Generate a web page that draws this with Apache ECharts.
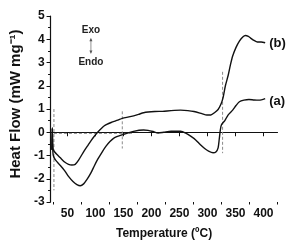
<!DOCTYPE html>
<html><head><meta charset="utf-8">
<script src="https://cdn.jsdelivr.net/npm/echarts@6/dist/echarts.min.js"></script>
<style>html,body{margin:0;padding:0;background:#fff}#c{width:290px;height:245px}</style>
</head><body><div id="c"></div>
<script>
// Curve (a): lower curve
const tempA = [22.3,23,23.7,24.5,26,29,37,45,52,60,67,73,79,85,92,98,104,112,119,126,133,148,168,186,194,203,212,222,235,252,262,270,279,287,295,302,310,315,319,321,323,325,331,337,345,351,357,365,374,383,392,403];
const heatA = [-0.75,0.18,-0.6,-0.95,-1.08,-1.2,-1.42,-1.65,-1.9,-2.12,-2.25,-2.3,-2.22,-2.03,-1.75,-1.45,-1.17,-0.85,-0.6,-0.4,-0.25,-0.11,0.04,0.1,0.08,0.03,-0.03,0.0,0.04,0.04,-0.05,-0.17,-0.33,-0.53,-0.7,-0.81,-0.88,-0.85,-0.67,-0.3,0.1,0.32,0.5,0.75,0.95,1.15,1.31,1.38,1.41,1.39,1.38,1.45];
// Curve (b): upper curve
const tempB = [22.3,23,23.7,24.5,27,31,37,45,52,58,64,70,80,87,95,104,116,128,140,148,162,177,186,206,220,235,252,265,276,290,299,306,313,319,324,328,332,337,341,345,351,357,363,368,373,377,383,389,396,403];
const heatB = [-0.75,0.18,-0.5,-0.74,-0.84,-0.95,-1.09,-1.28,-1.38,-1.41,-1.38,-1.2,-0.8,-0.55,-0.27,0.0,0.28,0.42,0.52,0.6,0.67,0.77,0.84,0.89,0.9,0.93,0.95,0.93,0.89,0.8,0.74,0.74,0.85,0.98,1.2,1.5,2.0,2.45,2.9,3.28,3.65,3.92,4.1,4.16,4.12,4.05,3.95,3.88,3.88,3.85];
// Dashed guide lines (data units)
const guideV1 = [[26, 1.0], [26, -2.5]];
const guideH1 = [[26, -0.05], [166, -0.05]];
const guideV2 = [[148, 0.9], [148, -0.7]];
const guideV3 = [[327, 2.6], [327, -0.9]];
// Ticks
const xTickLabels = [50,100,150,200,250,300,350,400];
const xMinorTicks = [25,75,125,175,225,275,325,375,425];
const yTickLabels = [-3,-2,-1,0,1,2,3,4,5];
const seriesNames = ['(a)','(b)'];
const annot = {exo:[92, 4.4], endo:[92, 3.02], arrowTop:[92, 4.0], arrowBot:[92, 3.43]};

const FONT = "'Liberation Sans', Arial, sans-serif";
const zip = (t, v) => t.map((x, i) => [x, v[i]]);
const chart = echarts.init(document.getElementById('c'), null, {renderer:'canvas'});

const guide = (d) => ({type:'line', data:d, showSymbol:false, silent:true,
  lineStyle:{color:'#8a8a8a', width:1, type:[3,2]}, z:1});

const curve = (name, d, dy) => ({type:'line', name, data:d, showSymbol:false, smooth:0.25,
  lineStyle:{color:'#111', width:1.4}, z:3,
  endLabel:{show:true, formatter:name, color:'#111', fontFamily:FONT, fontWeight:'bold', fontSize:13, distance:4, offset:[0, dy]}});

chart.setOption({
  animation:false,
  backgroundColor:'#fff',
  grid:{left:45, right:12.5, top:16, bottom:40},
  xAxis:[{
    type:'value', min:20, max:425, position:'bottom',
    name:'Temperature (ºC)', nameLocation:'middle', nameGap:26,
    nameTextStyle:{fontFamily:FONT, fontWeight:'bold', fontSize:12, color:'#111'},
    axisLine:{lineStyle:{color:'#111', width:1.2}},
    axisTick:{show:true, customValues:xTickLabels, length:4, lineStyle:{color:'#111'}},
    axisLabel:{customValues:xTickLabels, fontFamily:FONT, fontWeight:'bold', fontSize:12, color:'#111', margin:6},
    splitLine:{show:false}
  },{
    type:'value', min:20, max:425, position:'bottom',
    axisLine:{show:false},
    axisTick:{show:true, customValues:xMinorTicks, length:2.5, lineStyle:{color:'#111'}},
    axisLabel:{show:false}, splitLine:{show:false}
  }],
  yAxis:{
    type:'value', min:-3, max:5, interval:1,
    name:'Heat Flow (mW mg⁻¹)', nameLocation:'middle', nameGap:26, nameRotate:90,
    nameTextStyle:{fontFamily:FONT, fontWeight:'bold', fontSize:15, color:'#111', padding:[0,0,0,10]},
    axisLine:{show:true, lineStyle:{color:'#111', width:1.2}},
    axisTick:{show:true, length:4, lineStyle:{color:'#111'}},
    minorTick:{show:true, splitNumber:2, length:2.5, lineStyle:{color:'#111'}},
    axisLabel:{fontFamily:FONT, fontWeight:'bold', fontSize:12, color:'#111', margin:6},
    splitLine:{show:false}
  },
  series:[
    guide(guideV1), guide(guideH1), guide(guideV2), guide(guideV3),
    curve(seriesNames[0], zip(tempA, heatA), 3),
    curve(seriesNames[1], zip(tempB, heatB), 1)
  ]
});

const p = (c) => chart.convertToPixel({gridIndex:0}, c);
const pe = p(annot.exo), pn = p(annot.endo), pt = p(annot.arrowTop), pb = p(annot.arrowBot);
chart.setOption({graphic:[
  {type:'text', x:pe[0], y:pe[1], style:{text:'Exo', font:"bold 10px 'Liberation Sans', Arial", fill:'#222', align:'center', verticalAlign:'middle'}},
  {type:'text', x:pn[0], y:pn[1], style:{text:'Endo', font:"bold 10px 'Liberation Sans', Arial", fill:'#222', align:'center', verticalAlign:'middle'}},
  {type:'line', shape:{x1:pt[0], y1:pt[1], x2:pb[0], y2:pb[1]}, style:{stroke:'#777', lineWidth:0.8}},
  {type:'polygon', shape:{points:[[pt[0],pt[1]-1.5],[pt[0]-1.5,pt[1]+2],[pt[0]+1.5,pt[1]+2]]}, style:{fill:'#555'}},
  {type:'polygon', shape:{points:[[pb[0],pb[1]+1.5],[pb[0]-1.5,pb[1]-2],[pb[0]+1.5,pb[1]-2]]}, style:{fill:'#555'}}
]});
</script></body></html>
